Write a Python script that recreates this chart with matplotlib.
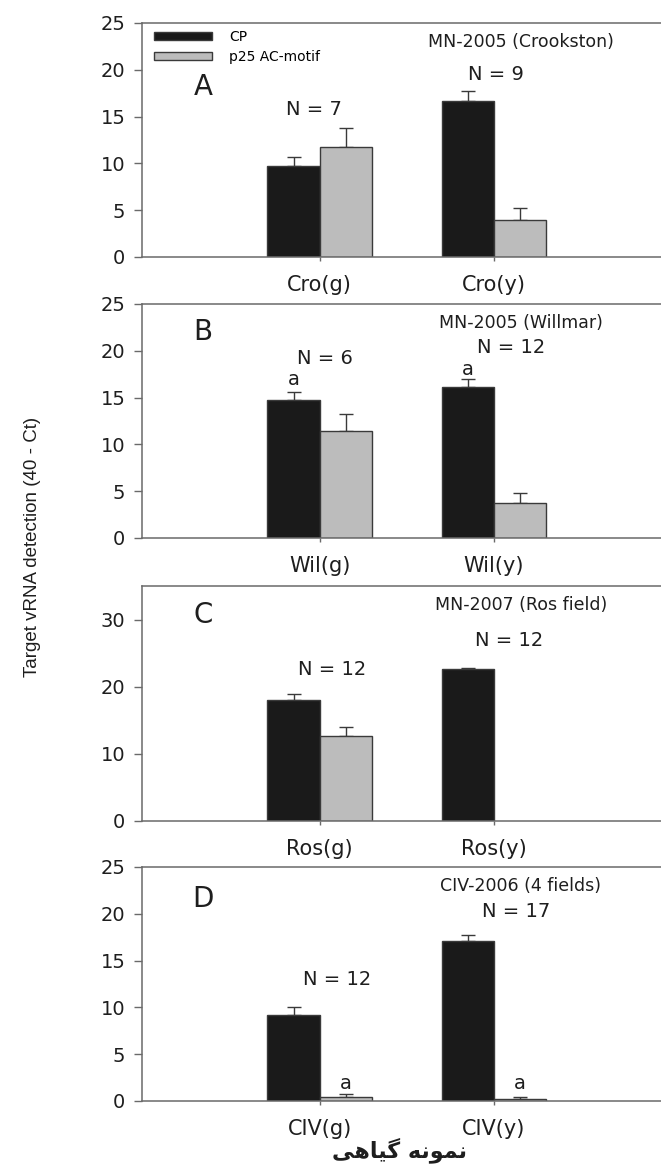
import matplotlib
matplotlib.use("Agg")
import matplotlib.pyplot as plt
import numpy as np

plt.rcParams['font.family'] = ['DejaVu Sans']

# ---- data ----
labels_A = ['Cro(g)', 'Cro(y)']
cp_A = [9.7, 16.7]
cp_err_A = [1.0, 1.0]
p25_A = [11.7, 3.9]
p25_err_A = [2.1, 1.3]

labels_B = ['Wil(g)', 'Wil(y)']
cp_B = [14.7, 16.1]
cp_err_B = [0.85, 0.9]
p25_B = [11.4, 3.75]
p25_err_B = [1.8, 1.1]

labels_C = ['Ros(g)', 'Ros(y)']
cp_C = [18.0, 22.6]
cp_err_C = [0.85, 0.15]
p25_C = [12.7, np.nan]
p25_err_C = [1.35, np.nan]

labels_D = ['CIV(g)', 'CIV(y)']
cp_D = [9.2, 17.1]
cp_err_D = [0.8, 0.6]
p25_D = [0.45, 0.2]
p25_err_D = [0.3, 0.2]

n_A = ['N = 7', 'N = 9']
n_B = ['N = 6', 'N = 12']
n_C = ['N = 12', 'N = 12']
n_D = ['N = 12', 'N = 17']

sites = ['MN-2005 (Crookston)', 'MN-2005 (Willmar)', 'MN-2007 (Ros field)', 'CIV-2006 (4 fields)']
letters = ['A', 'B', 'C', 'D']

BLACK = '#1a1a1a'
GREY = '#bcbcbc'
EDGE = '#3a3a3a'
SPINE = '#6a6a6a'
TXT = '#1e1e1e'

W, H = 661, 1166
fig = plt.figure(figsize=(W / 100, H / 100), dpi=100)

def add_ax(top, bottom, left=142, right=661):
    return fig.add_axes([left / W, 1 - bottom / H, (right - left) / W, (bottom - top) / H])

bw = 0.3

def panel(ax, labels, cp, cp_err, p25, p25_err, ymax, yticks):
    x = np.arange(1, len(labels) + 1)
    ax.bar(x - bw / 2, cp, bw, color=BLACK, edgecolor=EDGE, linewidth=1, label='CP', zorder=2)
    ax.bar(x + bw / 2, p25, bw, color=GREY, edgecolor=EDGE, linewidth=1, label='p25 AC-motif', zorder=2)
    ax.errorbar(x - bw / 2, cp, yerr=[np.zeros(len(cp)), cp_err], fmt='none',
                ecolor=EDGE, elinewidth=1, capsize=5, capthick=1, zorder=1)
    ax.errorbar(x + bw / 2, p25, yerr=[np.zeros(len(p25)), p25_err], fmt='none',
                ecolor=EDGE, elinewidth=1, capsize=5, capthick=1, zorder=1)
    ax.set_xlim(-0.02, 2.96)
    ax.set_ylim(0, ymax)
    ax.set_yticks(yticks)
    ax.set_xticks(x)
    ax.set_xticklabels(labels, fontsize=15, color=TXT)
    ax.tick_params(axis='y', labelsize=14, colors=SPINE, labelcolor=TXT, length=6, width=1, pad=6)
    ax.tick_params(axis='x', colors=SPINE, labelcolor=TXT, length=3, width=1, pad=10)
    for s in ['top', 'left', 'bottom']:
        ax.spines[s].set_color(SPINE)
        ax.spines[s].set_linewidth(1.1)
    ax.spines['right'].set_visible(False)

axA = add_ax(23, 257)
panel(axA, labels_A, cp_A, cp_err_A, p25_A, p25_err_A, 25, [0, 5, 10, 15, 20, 25])
axB = add_ax(304, 538)
panel(axB, labels_B, cp_B, cp_err_B, p25_B, p25_err_B, 25, [0, 5, 10, 15, 20, 25])
axC = add_ax(586, 821)
panel(axC, labels_C, cp_C, cp_err_C, p25_C, p25_err_C, 35, [0, 10, 20, 30])
axD = add_ax(867, 1101)
panel(axD, labels_D, cp_D, cp_err_D, p25_D, p25_err_D, 25, [0, 5, 10, 15, 20, 25])

axes = [axA, axB, axC, axD]
letter_y = [0.725, 0.88, 0.877, 0.864]
for ax, site, let, ly in zip(axes, sites, letters, letter_y):
    ax.text(0.73, 0.92, site, transform=ax.transAxes, ha='center', va='center',
            fontsize=12.5, color=TXT)
    ax.text(0.118, ly, let, transform=ax.transAxes, ha='center', va='center',
            fontsize=20, color=TXT)

# N annotations and significance letters
kw = dict(ha='center', va='center', fontsize=14, color=TXT)
axA.text(0.97, 15.8, n_A[0], **kw)
axA.text(2.01, 19.5, n_A[1], **kw)
axB.text(1.03, 19.2, n_B[0], **kw)
axB.text(2.1, 20.3, n_B[1], **kw)
axB.text(0.85, 16.9, 'a', **kw)
axB.text(1.85, 18.0, 'a', **kw)
axC.text(1.07, 22.5, n_C[0], **kw)
axC.text(2.09, 26.9, n_C[1], **kw)
axD.text(1.1, 13.0, n_D[0], **kw)
axD.text(2.13, 20.2, n_D[1], **kw)
axD.text(1.15, 1.9, 'a', **kw)
axD.text(2.15, 1.9, 'a', **kw)

axA.legend(loc='upper left', bbox_to_anchor=(0.01, 1.0), frameon=False, fontsize=10,
           handlelength=4.2, handleheight=0.55, labelspacing=0.45, borderaxespad=0.1,
           handletextpad=1.2)

fig.text(33 / W, 1 - 547 / H, 'Target vRNA detection (40 - Ct)', rotation=90,
         ha='center', va='center', fontsize=13.5, color=TXT,
         family=['Liberation Sans', 'DejaVu Sans'])

# Persian x label (presentation forms, visual order): "نمونه گیاهی"
xlab = '\uFBFD\uFEEB\uFE8E\uFBFF\uFB94 \uFEEA\uFEE7\uFEEE\uFEE4\uFEE7'
fig.text(400 / W, 1 - 1150 / H, xlab, ha='center', va='center', fontsize=16,
         fontweight='bold', color=TXT, family=['DejaVu Sans'])

fig.savefig('out.png', dpi=100)
